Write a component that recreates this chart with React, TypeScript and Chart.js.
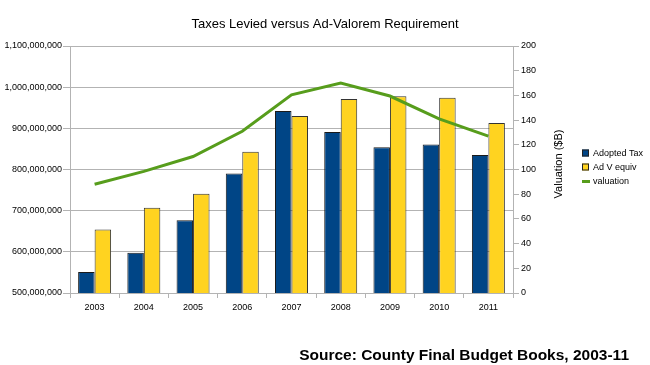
import React, { useEffect, useRef } from 'react';
import { Chart, registerables } from 'chart.js';

Chart.register(...registerables);

const chartTitle = 'Taxes Levied versus Ad-Valorem Requirement';
const rightAxisTitle = 'Valuation ($B)';
const sourceNote = 'Source: County Final Budget Books, 2003-11';

const years = ['2003', '2004', '2005', '2006', '2007', '2008', '2009', '2010', '2011'];
const adoptedTax = [551e6, 598e6, 677e6, 790e6, 942e6, 891e6, 854e6, 861e6, 835e6];
const adVEquiv = [654e6, 707e6, 741e6, 843e6, 930e6, 971e6, 978e6, 974e6, 913e6];
const valuation = [88, 98.5, 110.5, 131, 160.5, 170, 159.5, 141, 127];

const leftMin = 500e6;
const leftMax = 1100e6;
const leftStep = 100e6;
const rightMin = 0;
const rightMax = 200;
const rightStep = 20;

const seriesNames = ['Adopted Tax', 'Ad V equiv', 'valuation'];
const seriesColors = ['#004586', '#ffd320', '#579d1c'];

const FONT = '"Liberation Sans", Arial, sans-serif';

export default function App() {
  const ref = useRef<HTMLCanvasElement | null>(null);

  useEffect(() => {
    if (!ref.current) return;
    Chart.defaults.font.family = FONT;
    Chart.defaults.color = '#000';

    const extras = {
      id: 'extras',
      afterDraw(chart: any) {
        const ctx = chart.ctx as CanvasRenderingContext2D;
        ctx.save();
        // right axis title, reading bottom to top
        ctx.font = `11px ${FONT}`;
        ctx.fillStyle = '#000';
        ctx.textAlign = 'center';
        ctx.textBaseline = 'middle';
        ctx.save();
        ctx.translate(559, 164);
        ctx.rotate(-Math.PI / 2);
        ctx.fillText(rightAxisTitle, 0, 0);
        ctx.restore();

        // legend
        ctx.font = `9px ${FONT}`;
        ctx.textAlign = 'left';
        ctx.textBaseline = 'middle';
        const lx = 582;
        const ly = 153;
        const gap = 14;
        chart.data.datasets.forEach((ds: any, i: number) => {
          const cy = ly + i * gap;
          if (ds.type === 'line') {
            ctx.strokeStyle = ds.borderColor;
            ctx.lineWidth = 3;
            ctx.beginPath();
            ctx.moveTo(lx, cy + 0.5);
            ctx.lineTo(lx + 8, cy + 0.5);
            ctx.stroke();
          } else {
            ctx.fillStyle = ds.backgroundColor;
            ctx.fillRect(lx, cy - 3.5, 7, 7);
            ctx.strokeStyle = '#222';
            ctx.lineWidth = 1;
            ctx.strokeRect(lx + 0.5, cy - 3, 6, 6);
          }
          ctx.fillStyle = '#000';
          ctx.fillText(ds.label, lx + 11, cy + 0.5);
        });

        // source note
        ctx.font = `bold 15.5px ${FONT}`;
        ctx.textAlign = 'right';
        ctx.textBaseline = 'alphabetic';
        ctx.fillStyle = '#000';
        ctx.fillText(sourceNote, 629, 360);
        ctx.restore();
      },
    };

    const chart = new Chart(ref.current, {
      type: 'bar',
      data: {
        labels: years,
        datasets: [
          {
            type: 'bar',
            label: seriesNames[0],
            data: adoptedTax,
            backgroundColor: seriesColors[0],
            borderColor: '#1a1a1a',
            borderWidth: 1,
            yAxisID: 'y',
            order: 1,
            categoryPercentage: 0.67,
            barPercentage: 1,
          } as any,
          {
            type: 'bar',
            label: seriesNames[1],
            data: adVEquiv,
            backgroundColor: seriesColors[1],
            borderColor: '#333333',
            borderWidth: 1,
            yAxisID: 'y',
            order: 1,
            categoryPercentage: 0.67,
            barPercentage: 1,
          } as any,
          {
            type: 'line',
            label: seriesNames[2],
            data: valuation,
            borderColor: seriesColors[2],
            backgroundColor: seriesColors[2],
            borderWidth: 3,
            pointRadius: 0,
            tension: 0,
            fill: false,
            yAxisID: 'y1',
            order: 0,
          } as any,
        ],
      },
      options: {
        responsive: false,
        animation: false,
        layout: { padding: { top: 0, left: 0, right: 0, bottom: 47 } },
        plugins: {
          legend: { display: false },
          tooltip: { enabled: false },
          title: {
            display: true,
            text: chartTitle,
            color: '#000',
            font: { size: 13, weight: 'normal', family: FONT },
            padding: { top: 16.5, bottom: 13.9 },
          },
        },
        scales: {
          x: {
            offset: true,
            grid: {
              display: true,
              drawOnChartArea: false,
              offset: true,
              color: '#b3b3b3',
              tickLength: 5,
            },
            border: { color: '#b3b3b3' },
            ticks: { font: { size: 9 }, color: '#000', padding: 4, maxRotation: 0 },
            afterFit: (s: any) => { s.height = 25; },
          },
          y: {
            position: 'left',
            min: leftMin,
            max: leftMax,
            grid: { color: '#b3b3b3', tickLength: 7 },
            border: { color: '#b3b3b3' },
            ticks: {
              stepSize: leftStep,
              font: { size: 9 },
              color: '#000',
              padding: 1,
              callback: (v: any) => Number(v).toLocaleString('en-US'),
            },
            afterFit: (s: any) => { s.width = 70; },
          },
          y1: {
            position: 'right',
            min: rightMin,
            max: rightMax,
            grid: { drawOnChartArea: false, color: '#b3b3b3', tickLength: 6 },
            border: { color: '#b3b3b3' },
            ticks: { stepSize: rightStep, font: { size: 9 }, color: '#000', padding: 2 },
            afterFit: (s: any) => { s.width = 137; },
          },
        },
      },
      plugins: [extras],
    } as any);

    return () => chart.destroy();
  }, []);

  return (
    <div style={{ position: 'absolute', left: 0, top: 0, width: 650, height: 365, background: '#fff' }}>
      <canvas ref={ref} width={650} height={365} style={{ display: 'block' }} />
    </div>
  );
}
